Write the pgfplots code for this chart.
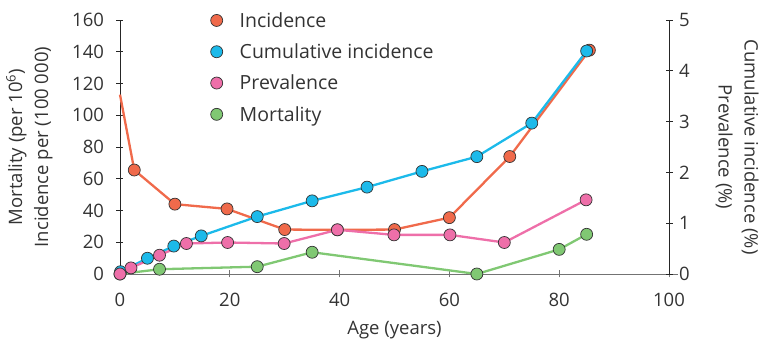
\documentclass[border=0pt]{standalone}
\usepackage{fontspec}
\setmainfont{Open Sans}
\usepackage{pgfplots}
\pgfplotsset{compat=1.18}
\definecolor{inc}{HTML}{F06A4B}
\definecolor{cum}{HTML}{1CBAEA}
\definecolor{prev}{HTML}{EE6FA9}
\definecolor{mort}{HTML}{80C873}
\definecolor{txt}{HTML}{333333}
\pgfplotsset{
  base/.style={scale only axis, width=549pt, height=254pt, xmin=0, xmax=100,
    /pgf/number format/assume math mode=true,
    tick label style={font=\fontsize{18.5}{20}\selectfont, text=txt},
    major tick length=7pt, tick align=outside,
    clip=false},
  ser/.style={color=#1, line width=2.3pt, mark=*, mark size=6pt,
    mark options={solid, fill=#1, draw=black!80, line width=0.7pt}},
}
\begin{document}
\begin{tikzpicture}
\begin{axis}[base,
  axis x line=bottom, axis y line=left,
  x axis line style={-, black!55, line width=0.9pt, shorten >=-9pt},
  y axis line style={-, black!85, line width=0.9pt},
  xtick style={black!55, line width=0.9pt},
  ytick style={black!85, line width=0.9pt},
  yticklabel style={xshift=-9pt},
  xticklabel style={yshift=-12pt},
  ymin=0, ymax=160, ytick={0,20,...,160}, xtick={0,20,...,100},
  every axis y label/.style={at={(rel axis cs:-0.165,0.5)}, rotate=90, anchor=center, align=center,
    font=\fontsize{18.5}{26}\selectfont, text=txt},
  every axis x label/.style={at={(rel axis cs:0.5,-0.240)}, anchor=base,
    font=\fontsize{18.5}{26}\selectfont, text=txt},
  ylabel={Mortality (per 10\textsuperscript{6})\\Incidence per (100 000)},
  xlabel={Age (years)},
]
\addplot[ser=inc, mark indices={2,...,10}] coordinates {
(0,113) (2.6,65.5) (10,44) (19.5,41) (30,28) (39.6,27.8) (50,28) (60,35.5) (71,74) (85.5,141)};
\addplot[ser=mort] coordinates {
(0,0) (7.2,3) (25,4.6) (35,13.7) (65,0) (80,15.5) (85,25)};
\end{axis}
\begin{axis}[base,
  axis x line=none, axis y line=right,
  y axis line style={-, black!85, line width=0.9pt},
  ytick style={black!85, line width=0.9pt},
  yticklabel style={xshift=3pt},
  ymin=0, ymax=5, ytick={0,1,...,5},
  every axis y label/.style={at={(rel axis cs:1.124,0.5)}, rotate=-90, anchor=center, align=center,
    font=\fontsize{18.5}{26}\selectfont, text=txt},
  ylabel={Cumulative incidence (\%)\\Prevalence (\%)},
  legend style={at={(rel axis cs:0.1652,1.027)}, anchor=north west, draw=none, fill=none,
    inner sep=0pt, outer sep=0pt, row sep=16.7pt, column sep=0pt,
    font=\fontsize{19.5}{22}\selectfont, text=txt,
    nodes={inner sep=0pt, text height=14pt, text depth=0.6pt}},
  legend cell align=left,
  legend image code/.code={\draw[#1] plot coordinates {(0pt,0pt)}; \path[draw=none] (-6pt,0pt) -- (23pt,0pt);},
]
\addlegendimage{ser=inc, only marks}\addlegendentry{Incidence}
\addlegendimage{ser=cum, only marks}\addlegendentry{Cumulative incidence}
\addlegendimage{ser=prev, only marks}\addlegendentry{Prevalence}
\addlegendimage{ser=mort, only marks}\addlegendentry{Mortality}
\addplot[ser=cum, forget plot] coordinates {
(0.1,0.045) (5,0.31) (9.8,0.55) (14.8,0.75) (25,1.13) (35,1.44) (45,1.71) (55,2.02) (65,2.31) (75,2.97) (85,4.39)};
\addplot[ser=prev, forget plot] coordinates {
(0,0) (2,0.12) (7.2,0.37) (12.1,0.6) (19.6,0.62) (29.9,0.6) (39.6,0.87) (49.9,0.77) (60.1,0.77) (70,0.62) (84.9,1.46)};
\end{axis}
\pgfresetboundingbox
\path ([shift={(-120pt,-68pt)}]current axis.south west) rectangle ++(764pt,342pt);
\end{tikzpicture}
\end{document}
